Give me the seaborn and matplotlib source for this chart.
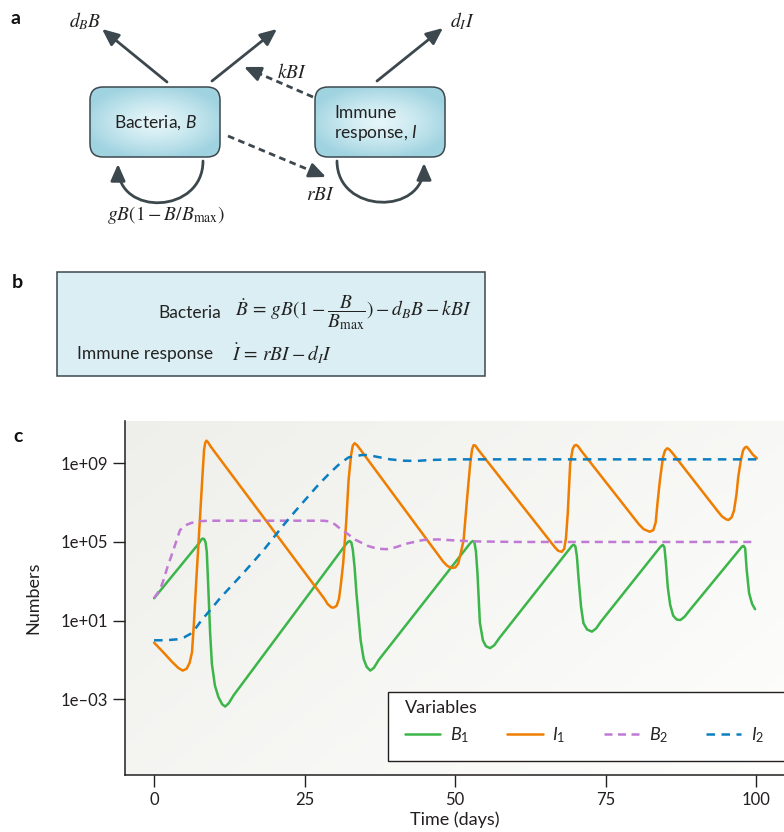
import numpy as np
import pandas as pd
import matplotlib
matplotlib.use("Agg")
import matplotlib.pyplot as plt
import seaborn as sns
from matplotlib.patches import FancyBboxPatch, FancyArrowPatch, Rectangle
from matplotlib.path import Path

# ---------------- data (log10 of numbers) ----------------
b1_time = [0.0, 7.5, 7.75, 8.0, 8.3, 8.55, 8.75, 9.0, 9.3, 9.6, 10.1, 10.7, 11.3, 11.8, 12.4, 13.2,
           31.9, 32.2, 32.45, 32.75, 33.0, 33.3, 33.6, 33.9, 34.3, 34.8, 35.3, 35.9, 36.5, 37.3,
           52.4, 52.7, 52.95, 53.2, 53.45, 53.7, 54.1, 54.6, 55.1, 55.8, 56.5, 57.3,
           69.2, 69.45, 69.7, 69.95, 70.2, 70.5, 70.9, 71.3, 71.9, 72.7, 73.4, 74.2,
           84.0, 84.25, 84.5, 84.75, 85.0, 85.3, 85.7, 86.2, 86.8, 87.4, 88.1, 89.0,
           97.4, 97.65, 97.9, 98.15, 98.4, 98.8, 99.3, 99.8]
b1_log10 = [2.14, 4.95, 5.08, 5.17, 5.15, 4.98, 4.5, 2.7, 0.4, -1.2, -2.3, -2.9, -3.25, -3.37, -3.2, -2.8,
            4.9, 5.0, 5.05, 4.98, 4.6, 3.7, 2.4, 1.37, 0.0, -0.95, -1.35, -1.54, -1.4, -1.0,
            4.9, 5.0, 5.05, 4.97, 4.5, 3.4, 0.9, 0.0, -0.3, -0.4, -0.25, 0.1,
            4.73, 4.82, 4.86, 4.78, 4.3, 3.1, 1.7, 0.87, 0.55, 0.44, 0.6, 0.95,
            4.72, 4.8, 4.85, 4.72, 3.9, 2.7, 1.8, 1.25, 1.05, 1.03, 1.2, 1.55,
            4.68, 4.77, 4.8, 4.68, 3.6, 2.4, 1.85, 1.58]

i1_time = [0.0, 1.5, 3.0, 4.0, 4.75, 5.4, 5.9, 6.3, 6.6, 7.0, 7.5, 8.0, 8.3, 8.5, 8.7, 9.0, 9.4,
           28.3, 28.8, 29.4, 29.8, 30.3, 30.7, 31.0, 31.4, 31.9, 32.3, 32.7, 33.0, 33.3, 33.7, 34.2,
           48.0, 48.7, 49.4, 50.0, 50.5, 50.9, 51.4, 52.0, 52.5, 52.8, 53.05, 53.35, 53.8,
           66.5, 67.1, 67.7, 68.1, 68.4, 68.7, 69.1, 69.5, 69.8, 70.1, 70.45, 70.9,
           80.5, 81.3, 82.3, 82.9, 83.3, 83.6, 84.0, 84.5, 84.85, 85.2, 85.5, 86.0,
           93.5, 94.3, 95.0, 95.4, 95.9, 96.3, 96.7, 97.0, 97.4, 97.8, 98.1, 98.4, 98.8, 99.4, 100.1]
i1_log10 = [-0.12, -0.6, -1.1, -1.4, -1.54, -1.45, -1.15, -0.6, 0.8, 3.0, 5.6, 8.2, 9.68, 10.05, 10.15, 10.05, 9.85,
            2.1, 1.85, 1.68, 1.66, 1.75, 2.1, 2.8, 3.92, 6.0, 8.15, 9.4, 9.9, 10.02, 9.92, 9.72,
            4.0, 3.78, 3.68, 3.7, 3.9, 4.4, 5.1, 7.3, 9.0, 9.7, 9.92, 9.9, 9.7,
            4.75, 4.55, 4.5, 4.65, 5.2, 6.5, 9.0, 9.72, 9.9, 9.93, 9.85, 9.65,
            5.9, 5.65, 5.52, 5.6, 6.0, 7.0, 8.15, 9.3, 9.65, 9.76, 9.72, 9.55,
            6.6, 6.3, 6.15, 6.12, 6.25, 6.6, 7.4, 8.3, 9.1, 9.65, 9.8, 9.84, 9.7, 9.45, 9.25]

b2_time = [0.0, 1.0, 1.5, 2.2, 3.2, 4.3, 5.2, 6.2, 7.5, 9.0, 28.1, 29.0, 30.0, 31.0, 32.0,
           33.5, 35.5, 37.0, 38.6, 40.0, 42.0, 44.7, 47.0, 49.8, 53.0, 60.0, 100.0]
b2_log10 = [2.14, 2.6, 3.0, 3.7, 4.59, 5.6, 5.85, 5.97, 6.05, 6.08, 6.08, 6.05, 5.9, 5.65, 5.44,
            5.1, 4.8, 4.66, 4.63, 4.72, 4.92, 5.1, 5.13, 5.08, 5.03, 5.0, 5.0]

i2_time = [0.0, 2.0, 3.8, 5.0, 6.0, 7.0, 7.9, 9.5, 10.95, 14.8, 18.2, 21.5, 23.4, 27.0,
           29.0, 30.9, 32.3, 33.6, 34.5, 35.5, 37.0, 39.2, 41.5, 43.6, 46.0, 49.8, 100.0]
i2_log10 = [0.0, 0.0, 0.05, 0.15, 0.32, 0.65, 1.03, 1.6, 2.14, 3.41, 4.59, 5.86, 6.55, 7.81,
            8.45, 9.0, 9.3, 9.37, 9.42, 9.42, 9.33, 9.2, 9.13, 9.12, 9.17, 9.2, 9.2]

variables = ["$B_1$", "$I_1$", "$B_2$", "$I_2$"]
line_colors = ["#3cb54a", "#ef7d00", "#c07ad5", "#0b7ec2"]
y_tick_values = [1e9, 1e5, 1e1, 1e-3]
y_tick_labels = ["1e+09", "1e+05", "1e+01", "1e\u201303"]
x_tick_values = [0, 25, 50, 75, 100]

# ---------------- style ----------------
sns.set_theme(style="white")
plt.rcParams["font.family"] = ["Lato", "DejaVu Sans"]
plt.rcParams["mathtext.fontset"] = "custom"
plt.rcParams["mathtext.rm"] = "Lato"
plt.rcParams["mathtext.it"] = "Lato:italic"
plt.rcParams["mathtext.bf"] = "Lato:bold"

W, H = 784, 832
fig = plt.figure(figsize=(W / 100, H / 100), dpi=100)
fig.patch.set_facecolor("white")

# overlay axes in pixel coordinates for panels a and b
ax0 = fig.add_axes([0, 0, 1, 1])
ax0.set_xlim(0, W)
ax0.set_ylim(H, 0)
ax0.axis("off")

dark = "#3c484e"

# panel labels
for lab, (lx, ly) in zip(["a", "b", "c"], [(16, 18), (17, 283), (18, 436)]):
    ax0.text(lx, ly, lab, fontsize=14, fontweight="bold", ha="center", va="center", color="#111111")

# gradient box helper
def grad_box(x0, y0, w, h):
    patch = FancyBboxPatch((x0, y0), w, h, boxstyle="round,pad=0,rounding_size=13",
                           facecolor="none", edgecolor=dark, lw=1.1, zorder=3)
    ax0.add_patch(patch)
    gx, gy = np.meshgrid(np.linspace(-1, 1, 120), np.linspace(-1, 1, 120))
    r = np.clip(np.sqrt(gx ** 2 * 0.8 + gy ** 2 * 0.9), 0, 1) ** 1.3
    c0 = np.array([0.90, 0.965, 0.98])
    c1 = np.array([0.63, 0.83, 0.88])
    img = c0[None, None, :] * (1 - r[..., None]) + c1[None, None, :] * r[..., None]
    im = ax0.imshow(img, extent=(x0, x0 + w, y0 + h, y0), aspect="auto", zorder=2, interpolation="bilinear")
    im.set_clip_path(patch)

grad_box(90, 87, 130, 70)
grad_box(315, 87, 130, 70)
ax0.text(155, 123, "Bacteria, $B$", fontsize=12.5, ha="center", va="center", color="#222222", zorder=4)
ax0.text(334, 124, "Immune\nresponse, $I$", fontsize=12.5, ha="left", va="center", color="#222222",
         linespacing=1.15, zorder=4)

astyle = "-|>,head_length=0.5,head_width=0.22"

def arrow(p0, p1):
    a = FancyArrowPatch(p0, p1, arrowstyle=astyle, mutation_scale=20, lw=2.0, color=dark,
                        shrinkA=0, shrinkB=0, zorder=3)
    ax0.add_patch(a)

def dashed_arrow(p0, p1):
    p0 = np.array(p0, float)
    p1 = np.array(p1, float)
    d = (p1 - p0) / np.linalg.norm(p1 - p0)
    mid = p1 - d * 11
    ax0.plot([p0[0], mid[0]], [p0[1], mid[1]], color=dark, lw=2.0, ls=(0, (2.4, 1.6)), zorder=3)
    a = FancyArrowPatch(tuple(p1 - d * 13), tuple(p1), arrowstyle=astyle, mutation_scale=20, lw=2.0,
                        color=dark, shrinkA=0, shrinkB=0, zorder=3)
    ax0.add_patch(a)

arrow((167, 82), (102, 29))
arrow((212, 81), (277, 29))
arrow((377, 81), (443, 28))
dashed_arrow((313, 97), (244, 67))
dashed_arrow((228, 136), (326, 177))

def loop(p0, p1, depth):
    path = Path([p0, (p0[0], p0[1] + depth), (p1[0], p1[1] + depth), p1],
                [Path.MOVETO, Path.CURVE4, Path.CURVE4, Path.CURVE4])
    a = FancyArrowPatch(path=path, arrowstyle=astyle, mutation_scale=20, lw=2.0, color=dark,
                        shrinkA=0, shrinkB=0, zorder=3)
    ax0.add_patch(a)

loop((203, 161), (118, 164), 53)
loop((337, 161), (424, 163), 53)

mk = dict(math_fontfamily="stix", color="#222222", fontsize=14, ha="center", va="center")
ax0.text(85, 21, r"$d_{B}B$", **mk)
ax0.text(462, 21, r"$d_{I}I$", **mk)
ax0.text(292, 71, r"$kBI$", **mk)
ax0.text(320, 195, r"$rBI$", **mk)
ax0.text(166, 215, r"$gB(1-B/B_{\mathrm{max}})$", **mk)

# panel b
ax0.add_patch(Rectangle((57, 272), 428, 104, facecolor="#dbeef3", edgecolor=dark, lw=1.1, zorder=2))
ax0.text(158, 313, "Bacteria", fontsize=12.5, ha="left", va="center", color="#222222", zorder=4)
ax0.text(235, 313, r"$\dot{B}\,=\,gB(1-\dfrac{B}{B_{\mathrm{max}}})-d_{B}B-kBI$",
         math_fontfamily="stix", fontsize=14, ha="left", va="center", color="#222222", zorder=4)
ax0.text(77, 354, "Immune response", fontsize=12.5, ha="left", va="center", color="#222222", zorder=4)
ax0.text(232, 354, r"$\dot{I}\,=\,rBI-d_{I}I$",
         math_fontfamily="stix", fontsize=14, ha="left", va="center", color="#222222", zorder=4)

# chart background gradient
left_px, right_px, top_px, bot_px = 125, 784, 421, 775
gx, gy = np.meshgrid(np.linspace(0, 1, 200), np.linspace(0, 1, 200))
v = np.clip(0.6 * gx + 0.4 * gy, 0, 1)
c0 = np.array([0.935, 0.935, 0.92])
c1 = np.array([0.995, 0.995, 0.99])
bg = c0[None, None, :] * (1 - v[..., None]) + c1[None, None, :] * v[..., None]
ax0.imshow(bg, extent=(left_px, right_px, bot_px, top_px), aspect="auto", zorder=1)

# ---------------- panel c ----------------
ax = fig.add_axes([left_px / W, 1 - bot_px / H, (right_px - left_px) / W, (bot_px - top_px) / H])
ax.set_facecolor("none")

frames = []
for name, t, lv in zip(variables, [b1_time, i1_time, b2_time, i2_time],
                       [b1_log10, i1_log10, b2_log10, i2_log10]):
    frames.append(pd.DataFrame({"Time": t, "Numbers": 10.0 ** np.array(lv), "Variable": name}))
df = pd.concat(frames, ignore_index=True)

sns.lineplot(data=df, x="Time", y="Numbers", hue="Variable", style="Variable",
             hue_order=variables, style_order=variables,
             palette=dict(zip(variables, line_colors)),
             dashes={variables[0]: "", variables[1]: "", variables[2]: (3.2, 2.2), variables[3]: (3.4, 2.6)},
             estimator=None, sort=False, linewidth=1.8, ax=ax)
for ln in ax.get_lines():
    ln.set_solid_joinstyle("round")
    ln.set_solid_capstyle("round")

ax.set_yscale("log")
ax.set_xlim(-4.83, 104.6)
ax.set_ylim(10 ** -6.85, 10 ** 11.15)
ax.set_yticks(y_tick_values)
ax.set_yticklabels(y_tick_labels)
ax.minorticks_off()
ax.set_xticks(x_tick_values)
ax.set_xticklabels([str(x) for x in x_tick_values])
ax.tick_params(axis="both", which="major", length=8.5, width=1.0, color="#231f20",
               labelsize=12, labelcolor="#231f20", pad=3.5)
ax.tick_params(axis="y", left=True)
ax.tick_params(axis="x", bottom=True)
for s in ["top", "right"]:
    ax.spines[s].set_visible(False)
for s in ["left", "bottom"]:
    ax.spines[s].set_color("#231f20")
    ax.spines[s].set_linewidth(1.1)
ax.set_xlabel("Time (days)", fontsize=13, color="#231f20", labelpad=3)
ax.set_ylabel("Numbers", fontsize=13, color="#231f20", labelpad=14)

# legend
handles, labels = ax.get_legend_handles_labels()
if ax.get_legend():
    ax.get_legend().remove()
lx0 = (388 - left_px) / (right_px - left_px)
ly0 = (bot_px - 761) / (bot_px - top_px)
lh = (761 - 692) / (bot_px - top_px)
ax.add_patch(Rectangle((lx0, ly0), 0.8, lh, transform=ax.transAxes, facecolor="white",
                       edgecolor="#231f20", lw=1.0, zorder=4, clip_on=False))
leg = ax.legend(handles, labels, title="Variables", ncol=4, loc="upper left",
                bbox_to_anchor=((405 - left_px) / (right_px - left_px), (bot_px - 700) / (bot_px - top_px)),
                frameon=False, alignment="left", fontsize=13, title_fontsize=13,
                handlelength=1.95, handletextpad=0.55, columnspacing=2.1,
                borderpad=0, borderaxespad=0)
leg.set_zorder(5)
leg.get_title().set_color("#231f20")

fig.savefig("out.png", dpi=100, facecolor="white")
